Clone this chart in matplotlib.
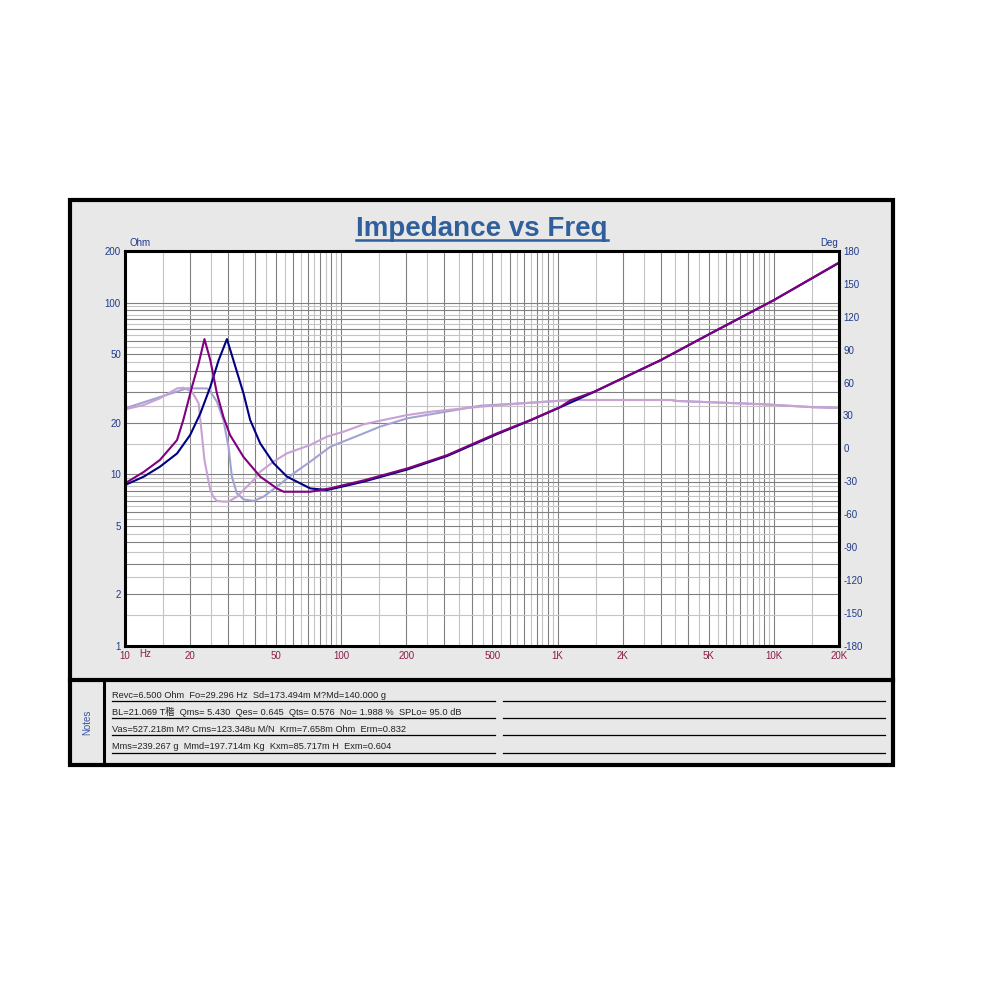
import numpy as np
import matplotlib
matplotlib.use('Agg')
import matplotlib.pyplot as plt
from matplotlib.patches import Rectangle

plt.rcParams['font.family'] = ['Liberation Sans', 'Noto Sans CJK SC', 'DejaVu Sans']

# impedance magnitude (Ohm), sample 1 - purple
f_z1 = [10, 12.2, 14.5, 17.4, 18.6, 20.4, 21.9, 23.3, 24.8, 26.6, 28.5, 30.6,
        35.3, 42.2, 50.4, 54.1, 71.9, 89, 102.5, 127, 202, 308, 524, 750,
        1032, 1150, 1470, 3000, 5100, 10000, 19600, 20000]
z1 = [8.84, 10.3, 12.1, 15.8, 20.7, 32.3, 44.2, 61.3, 46.2, 29.6, 21.6, 16.9,
      12.6, 9.67, 8.26, 7.9, 7.9, 8.27, 8.64, 9.2, 10.8, 12.9, 17.3, 20.7,
      24.7, 27.0, 30.2, 46.3, 66.2, 103.5, 169, 171]

# impedance magnitude (Ohm), sample 2 - navy
f_z2 = [10, 12.2, 14.5, 17.4, 20.0, 22.3, 24.8, 27.1, 29.6, 31.7, 35.3, 37.9,
        42.2, 48.6, 56.1, 71.9, 85.8, 102.5, 127, 202, 308, 524, 750,
        1032, 1470, 3000, 5100, 10000, 20000]
z2 = [8.64, 9.67, 11.05, 13.2, 16.9, 22.6, 32.3, 46.2, 61.3, 46.2, 29.6, 20.7,
      15.1, 11.6, 9.67, 8.26, 8.08, 8.5, 9.05, 10.65, 12.75, 17.1, 20.6,
      24.6, 30.1, 46.2, 66.1, 103.4, 170.5]

# phase (deg), sample 1 - pink
f_p1 = [10, 12.2, 14.5, 17.4, 18.6, 20.4, 21.9, 22.3, 23.3, 24.1, 24.8, 25.6,
        26.6, 28.5, 30.1, 32.9, 35.3, 39.3, 42.2, 48.6, 56.1, 71.9, 85.8,
        102.5, 127, 151, 202, 258, 440, 750, 1150, 3350, 3560, 5870, 8940,
        15300, 20000]
p1 = [35.6, 39.5, 45.6, 54.7, 55.3, 51.7, 41.1, 26.0, -10.6, -25.8, -38.0, -44.1,
      -48.0, -48.6, -48.6, -44.1, -38.0, -28.9, -21.3, -12.1, -4.5, 3.1, 10.7,
      15.2, 21.9, 25.2, 30.4, 33.4, 38.0, 41.6, 44.1, 44.1, 43.2, 41.6, 40.2,
      37.5, 36.8]

# phase (deg), sample 2 - lavender
f_p2 = [10, 19.3, 23.9, 24.8, 26.6, 28.5, 30.1, 31.2, 32.9, 35.3, 39.3, 43.7,
        50.4, 60.2, 71.9, 89, 127, 151, 202, 258, 440, 750, 1150, 3350,
        3560, 5870, 8940, 15300, 20000]
p2 = [36.5, 54.7, 54.7, 51.7, 42.6, 25.9, 1.5, -25.8, -41.0, -46.5, -48.0, -44.1,
      -34.9, -22.8, -12.1, 1.5, 13.7, 19.8, 27.4, 31.0, 38.9, 41.6, 44.1, 44.1,
      43.2, 41.6, 40.2, 37.5, 36.8]

x_ticks = [10, 20, 50, 100, 200, 500, 1000, 2000, 5000, 10000, 20000]
x_labels = ['10', '20', '50', '100', '200', '500', '1K', '2K', '5K', '10K', '20K']
z_ticks = [1, 2, 5, 10, 20, 50, 100, 200]
z_labels = ['1', '2', '5', '10', '20', '50', '100', '200']
deg_ticks = list(range(-180, 181, 30))

tm = b'\xb7M'.decode('gbk', errors='replace')
notes = [
    'Revc=6.500 Ohm  Fo=29.296 Hz  Sd=173.494m M?Md=140.000 g',
    'BL=21.069 T' + tm + '  Qms= 5.430  Qes= 0.645  Qts= 0.576  No= 1.988 %  SPLo= 95.0 dB',
    'Vas=527.218m M? Cms=123.348u M/N  Krm=7.658m Ohm  Erm=0.832',
    'Mms=239.267 g  Mmd=197.714m Kg  Kxm=85.717m H  Exm=0.604',
]

navy_txt = '#1f3a8a'
red_txt = '#8b1c4b'

fig = plt.figure(figsize=(10, 10), dpi=100)
fig.patch.set_facecolor('white')

# page frame, in pixel coordinates
bg = fig.add_axes([0, 0, 1, 1])
bg.set_xlim(0, 1000)
bg.set_ylim(1000, 0)
bg.axis('off')
bg.add_patch(Rectangle((70, 200), 823, 565, facecolor='#e8e8e8', edgecolor='black', lw=3))
bg.plot([70, 893], [679.5, 679.5], color='black', lw=3)
bg.plot([103.5, 103.5], [679.5, 765], color='black', lw=2.2)

rect = [0.125, 1 - 0.6457, 0.714, 0.3947]

# grid axes
axg = fig.add_axes(rect)
axg.set_xscale('log')
axg.set_yscale('log')
axg.set_xlim(10, 20000)
axg.set_ylim(1, 200)
axg.axis('off')
axg.add_patch(Rectangle((10, 1), 19990, 199, facecolor='white', zorder=0))
for d in [10, 100, 1000, 10000]:
    for m in np.arange(1, 10, 0.5):
        v = d * m
        if v > 20000:
            continue
        axg.axvline(v, color='#808080' if m % 1 == 0 else '#c4c4c4', lw=0.8, zorder=1)
for d in [1, 10]:
    for m in np.arange(1, 10, 0.5):
        axg.axhline(d * m, color='#808080' if m % 1 == 0 else '#c4c4c4', lw=0.8, zorder=1)
axg.axhline(100, color='#808080', lw=0.8, zorder=1)

# phase axes
axp = fig.add_axes(rect)
axp.set_xscale('log')
axp.set_xlim(10, 20000)
axp.set_ylim(-180, 180)
axp.patch.set_visible(False)
axp.plot(f_p2, p2, color='#a3a3d3', lw=1.5)
axp.plot(f_p1, p1, color='#c9a2d4', lw=1.5)
axp.yaxis.tick_right()
axp.set_yticks(deg_ticks)
axp.set_yticklabels([str(t) for t in deg_ticks])
axp.set_xticks([])
axp.set_xticks([], minor=True)
axp.tick_params(axis='y', length=0, pad=3, labelsize=7, labelcolor=navy_txt)
for s in axp.spines.values():
    s.set_visible(False)

# impedance axes
axz = fig.add_axes(rect)
axz.set_xscale('log')
axz.set_yscale('log')
axz.set_xlim(10, 20000)
axz.set_ylim(1, 200)
axz.patch.set_visible(False)
axz.plot(f_z2, z2, color='#000080', lw=1.5)
axz.plot(f_z1, z1, color='#800080', lw=1.5)
axz.set_xticks(x_ticks)
axz.set_xticklabels(x_labels)
axz.set_yticks(z_ticks)
axz.set_yticklabels(z_labels)
axz.set_xticks([], minor=True)
axz.set_yticks([], minor=True)
axz.tick_params(axis='x', length=0, pad=3.5, labelsize=7, labelcolor=red_txt)
axz.tick_params(axis='y', length=0, pad=3, labelsize=7, labelcolor=navy_txt)
for s in axz.spines.values():
    s.set_color('black')
    s.set_linewidth(2.2)

# labels around the plot
bg.text(129, 243, 'Ohm', ha='left', va='center', fontsize=7, color=navy_txt)
bg.text(838, 243, 'Deg', ha='right', va='center', fontsize=7, color=navy_txt)
bg.text(139, 654, 'Hz', ha='left', va='center', fontsize=7, color=red_txt)
bg.text(813, 631, 'IMS', ha='center', va='center', fontsize=12, style='italic',
        family='DejaVu Sans', color='black', fontweight='light')

title = bg.text(482, 235.5, 'Impedance vs Freq', ha='center', va='baseline',
                fontsize=20, fontweight='bold', color='#30609c')
fig.canvas.draw()
bb = title.get_window_extent(fig.canvas.get_renderer())
(x0, _), (x1, _) = bg.transData.inverted().transform([[bb.x0, bb.y0], [bb.x1, bb.y1]])
bg.plot([x0, x1], [240, 240], color='#30609c', lw=1.8)

# notes block
bg.text(87, 722, 'Notes', rotation=90, ha='center', va='center', fontsize=7, color='#3555a5')
for i, line in enumerate(notes):
    yb = 697.5 + i * 17.2
    bg.text(112, yb, line, ha='left', va='baseline', fontsize=6.7, color='#222222')
    bg.plot([112, 495], [yb + 3.5, yb + 3.5], color='black', lw=0.9)
    bg.plot([503, 885], [yb + 3.5, yb + 3.5], color='black', lw=0.9)

fig.savefig('out.png', dpi=100, facecolor='white')
